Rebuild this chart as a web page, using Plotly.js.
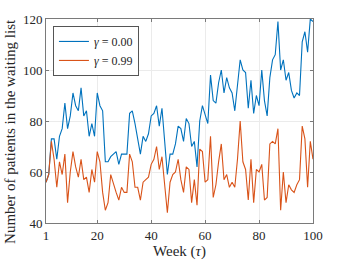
<!DOCTYPE html>
<html>
<head>
<meta charset="utf-8">
<script src="https://cdn.plot.ly/plotly-3.0.1.min.js"></script>
<style>html,body{margin:0;padding:0;background:#fff}#chart{width:346px;height:260px}</style>
</head>
<body>
<div id="chart"></div>
<script>
const weeks = Array.from({length: 100}, (_, i) => i + 1);
const gamma000 = [56,59,73,73,65,74,77,87,77,82,
  91,86,84,93,82,84,74,79,74,91,
  86,84,64,64,66,67,68,63,67,67,
  67,83,84,79,73,67,74,72,75,82,
  83,86,78,85,72,59,67,67,71,78,
  77,72,81,79,70,72,62,80,86,82,
  79,98,88,87,95,100,91,97,93,91,
  84,94,104,100,99,85,96,83,90,86,
  100,88,82,97,104,106,119,100,104,96,
  99,92,89,91,90,111,115,107,120,119];
const gamma099 = [56,59,72,65,54,64,59,67,48,60,
  68,62,58,65,57,58,52,61,56,68,
  64,52,45,48,59,55,52,49,54,52,
  52,67,64,54,54,49,56,57,58,63,
  65,70,61,66,54,44,56,59,60,65,
  57,52,62,61,48,57,47,69,68,56,
  57,74,50,55,64,71,57,59,54,56,
  54,65,80,64,61,49,65,48,61,60,
  63,49,50,71,72,71,77,45,60,48,
  55,53,52,55,57,78,73,54,72,65];
const seriesNames = ['<i>γ</i> = 0.00', '<i>γ</i> = 0.99'];
const xTicks = [1,20,40,60,80,100];
const yTicks = [40,60,80,100,120];
const xTitle = 'Week (<i>τ</i>)';
const yTitle = 'Number of patients in the waiting list';

const serif = 'Liberation Serif';
const traces = [
  {x: weeks, y: gamma000, type: 'scatter', mode: 'lines', name: seriesNames[0],
   line: {color: '#0072BD', width: 1.1}},
  {x: weeks, y: gamma099, type: 'scatter', mode: 'lines', name: seriesNames[1],
   line: {color: '#D95319', width: 1.1}}
];
const axisCommon = {
  showline: true, linecolor: '#7a7a7a', linewidth: 1, mirror: 'ticks',
  ticks: 'inside', ticklen: 3, tickcolor: '#7a7a7a', tickwidth: 1,
  showgrid: true, gridcolor: '#ebebeb', gridwidth: 1, zeroline: false,
  tickfont: {family: serif, size: 13, color: '#262626'}
};
const layout = {
  width: 346, height: 260,
  margin: {l: 46, r: 33, t: 19, b: 37},
  paper_bgcolor: '#fff', plot_bgcolor: '#fff',
  showlegend: true,
  xaxis: Object.assign({}, axisCommon, {
    range: [1, 100], tickmode: 'array', tickvals: xTicks,
    ticktext: xTicks.map(String),
    title: {text: xTitle, font: {family: serif, size: 15, color: '#262626'}, standoff: 1}
  }),
  yaxis: Object.assign({}, axisCommon, {
    range: [40, 120], tickmode: 'array', tickvals: yTicks,
    ticktext: yTicks.map(String)
  }),
  annotations: [{
    text: yTitle, xref: 'paper', yref: 'paper', x: -0.135, y: 0.451,
    xanchor: 'center', yanchor: 'middle', textangle: -90, showarrow: false,
    font: {family: serif, size: 15, color: '#262626'}
  }],
  legend: {
    x: 0.026, y: 0.966, xanchor: 'left', yanchor: 'top',
    bgcolor: '#fff', bordercolor: '#555', borderwidth: 1,
    font: {family: serif, size: 12, color: '#262626'},
    tracegroupgap: 0, itemwidth: 30
  }
};
Plotly.newPlot('chart', traces, layout, {displayModeBar: false, staticPlot: true});
</script>
</body>
</html>
